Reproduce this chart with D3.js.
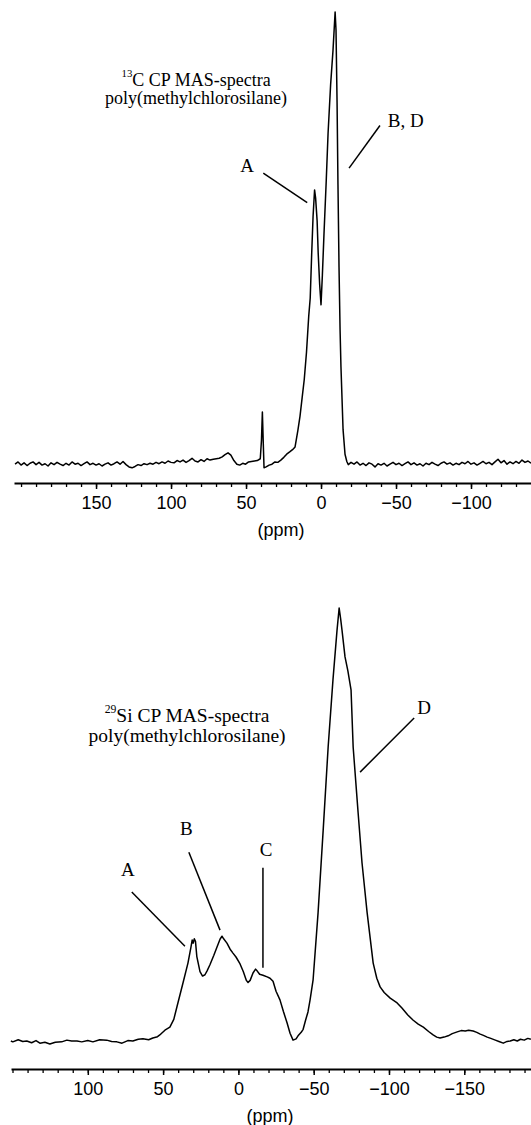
<!DOCTYPE html>
<html>
<head>
<meta charset="utf-8">
<script src="https://cdn.jsdelivr.net/npm/d3@7"></script>
<style>
  body { margin: 0; background: #fff; }
  svg { display: block; }
  .axis text { font-family: "Liberation Sans", Arial, sans-serif; font-size: 18px; fill: #000; }
  .axis path, .axis line { stroke: #000; }
  .note { font-family: "Liberation Serif", "Times New Roman", serif; fill: #000; }
  .spec { fill: none; stroke: #000; stroke-width: 1.5; stroke-linejoin: round; }
  .lead { stroke: #000; stroke-width: 1.5; }
</style>
</head>
<body>
<div id="chart"></div>
<script>
const width = 531, height = 1125;

// 13C CP MAS spectrum: shift (ppm) and intensity (% of tallest peak)
const cPpm = [204,202,200,198,196,194,192,190,188,186,184,182,180,178,176,174,172,170,168,166,164,162,160,158,156,154,152,150,148,146,144,142,140,138,136,134,132,130,128,126,124,122,120,118,116,114,112,110,108,106,104,102,100,98,96,94,92,90,88,86,84,82,80,78,76,74,
  71.8,69.8,67.9,65.9,64.0,62.0,60.1,58.1,56.1,54.2,52.2,50.3,48.3,46.4,44.4,42.5,40.5,39.7,39.1,38.5,38.0,36.6,34.6,32.7,30.7,28.8,26.8,24.8,22.9,20.9,19.0,17.3,15.4,14.0,12.6,11.2,9.7,8.2,7.2,6.3,5.3,4.3,3.6,2.6,1.9,0.9,0.0,-0.9,-2.0,-3.5,-4.7,-6.4,-8.0,-9.4,-10.0,-10.7,-11.3,-12.0,-12.7,-13.3,-14.7,-16.0,-17.2,-18.2,
  -20,-22,-24,-26,-28,-30,-32,-34,-36,-38,-40,-42,-44,-46,-48,-50,-52,-54,-56,-58,-60,-62,-64,-66,-68,-70,-72,-74,-76,-78,-80,-82,-84,-86,-88,-90,-92,-94,-96,-98,-100,-102,-104,-106,-108,-110,-112,-114,-116,-118,-120,-122,-124,-126,-128,-130,-132,-134,-136,-138,-140];
const cInt = [0.4,0.9,0.2,0.7,0.1,0.6,0.9,0.3,0.8,0.2,0.5,0.0,0.7,0.3,0.8,0.4,0.1,0.6,0.2,0.9,0.4,0.6,0.1,0.5,0.9,0.3,0.6,0.2,0.5,0.0,0.4,0.7,0.2,0.5,0.9,0.4,1.0,0.3,-0.2,-0.4,-0.1,0.3,0.1,0.5,0.3,0.6,0.4,0.8,0.5,0.9,0.6,1.1,0.8,0.7,1.2,0.9,1.3,0.8,1.2,1.7,1.1,0.9,1.4,1.0,1.6,1.3,
  1.5,1.6,1.7,2.0,2.5,2.9,2.4,1.2,0.4,0.2,0.6,0.4,0.9,1.0,1.1,1.2,1.6,5.7,11.9,5.0,-0.4,-0.2,0.2,0.4,0.9,0.8,1.3,1.9,2.6,3.1,3.6,4.2,7.9,11,15,19,25,33,37,46,55,60.8,59,54,47,40,35.5,42,51.3,63,73.3,84,91.6,100,96,80,62,43.8,30,21.8,8,2.6,1.0,0.3,
  0.8,0.4,0.9,0.2,0.6,0.1,0.7,0.4,-0.2,0.5,0.2,0.6,0.0,0.4,0.8,0.3,0.6,0.1,0.5,0.9,0.3,0.7,0.2,0.5,0.0,0.6,0.3,0.8,0.4,0.1,0.6,0.9,0.4,0.7,0.2,0.6,0.3,0.8,0.5,1.0,0.4,0.7,0.2,0.6,1.0,0.5,0.8,0.3,0.9,1.5,0.7,1.2,0.4,0.9,0.5,1.0,0.6,1.3,0.8,1.1,0.6];

// 29Si CP MAS spectrum
const siPpm = [151.1,149.8,146.2,143.2,140.5,137.3,134.4,131.8,128.5,125.2,121.6,117.3,113.9,110.8,107.2,104.0,100.0,96.6,92.1,87.4,84.2,80.7,77.3,73.4,70.1,66.5,63.4,59.6,56.8,53.7,52.2,48.8,45.5,42.9,40.8,36.8,33.5,31.5,30.7,30.0,29.3,28.5,27.6,25.5,23.8,22.2,20.8,18.9,16.3,14.2,12.2,10.9,9.8,7.6,5.5,3.6,1.6,-1.1,-3.3,-5.3,-6.4,-7.8,-9.7,-11.4,-12.4,-14.1,-16.3,-19.1,-21.0,-23.0,-25.0,-27.6,-29.9,-32.3,-34.3,-36.3,-38.3,-39.6,-41.7,-43.0,-44.6,-46.2,-47.6,-49.6,-52.9,-56.3,-59.6,-62.8,-65.5,-66.9,-67.9,-68.8,-70.8,-72.7,-74.8,-76.2,-79.5,-82.1,-85.5,-89.5,-91.9,-94.1,-96.8,-100.8,-105.4,-108.6,-112.5,-116.1,-119.4,-122.8,-126.3,-129.3,-131.7,-133.9,-136.6,-139.3,-142.0,-145.3,-147.9,-150.6,-152.9,-155.9,-158.3,-160.6,-162.7,-165.2,-167.6,-170.6,-173.0,-175.9,-178.4,-180.5,-182.9,-185.2,-187.3,-189.8,-192.2,-194.2];
const siInt = [0.0,-0.2,0.3,-0.1,0.0,-0.4,0.1,-0.5,-0.3,-0.7,-0.3,-0.2,0.2,0.0,0.0,-0.2,0.1,-0.2,0.3,0.2,-0.1,-0.2,-0.5,0.1,0.0,0.4,0.5,0.3,0.7,1.0,1.4,2.5,3.2,5.0,7.9,13.4,18.0,21.7,23.3,22.6,23.6,23.0,19.5,16.0,15.0,15.3,16.2,17.6,19.8,21.7,23.5,24.2,23.6,22.6,21.2,20.3,19.4,17.8,16.0,14.0,13.5,14.0,15.7,16.6,16.2,15.4,15.2,14.8,14.5,13.8,11.5,9.5,6.8,4.2,1.8,0.2,0.5,1.2,2.0,2.7,4.8,6.7,9.5,14.1,29.6,48.7,67.9,83.4,94.9,100,97.5,94.9,88.7,85.5,81.1,67.9,52.7,41.1,29.6,18.0,14.5,12.5,11.2,9.9,8.8,7.6,6.0,4.8,3.9,3.2,2.2,1.4,0.9,0.7,0.9,1.2,1.7,2.1,2.4,2.3,2.5,2.3,2.0,1.6,1.3,0.9,0.6,0.2,-0.1,-0.5,-0.1,0.0,0.3,0.0,0.4,0.2,0.6,0.4];

const cLabelTicks = [150, 100, 50, 0, -50, -100];
const siLabelTicks = [100, 50, 0, -50, -100, -150];

const cTitle = ["13", "C CP MAS-spectra", "poly(methylchlorosilane)"];
const siTitle = ["29", "Si CP MAS-spectra", "poly(methylchlorosilane)"];

// peak labels: [text, ppm, intensity], leader: [ppm1, int1, ppm2, int2]
const cLabels = [["A", 49.3, 66], ["B, D", -56.5, 76]];
const cLeaders = [[38.5, 64.5, 9.2, 58], [-39.3, 75, -18.7, 65.6]];
const siLabels = [["A", 73.4, 39.5], ["B", 34.5, 49], ["C", -18.4, 44.1], ["D", -123.3, 77]];
const siLeaders = [[70.8, 34.4, 35.5, 21.9], [32.9, 43.6, 12.2, 25.6], [-16.3, 40, -16.3, 16.9], [-116.7, 74.6, -80.8, 62.1]];

const svg = d3.select("#chart").append("svg")
  .attr("width", width)
  .attr("height", height);

function panel(cfg) {
  const x = d3.scaleLinear().domain(cfg.domain).range([cfg.left, width]);
  const y = d3.scaleLinear().domain([0, 100]).range([cfg.base, cfg.top]);
  const g = svg.append("g");

  const line = d3.line().x((d, i) => x(cfg.ppm[i])).y(d => y(d));
  g.append("path").datum(cfg.int).attr("class", "spec").attr("d", line);

  // minor ticks every 10 ppm
  const minor = d3.range(Math.floor(cfg.domain[0] / 10) * 10, cfg.domain[1], -10);
  g.append("g")
    .attr("class", "axis")
    .attr("transform", `translate(0,${cfg.axisY})`)
    .call(d3.axisBottom(x).tickValues(minor).tickSize(4).tickSizeOuter(0).tickFormat(""))
    .call(a => a.select(".domain").attr("stroke-width", 2.2))
    .selectAll(".tick line").attr("stroke-width", 1.3);

  g.append("g")
    .attr("class", "axis")
    .attr("transform", `translate(0,${cfg.axisY})`)
    .call(d3.axisBottom(x).tickValues(cfg.ticks).tickSize(6).tickSizeOuter(0))
    .call(a => a.select(".domain").remove())
    .call(a => a.selectAll(".tick line").attr("stroke-width", 1.5))
    .call(a => a.selectAll(".tick text").attr("y", 13));

  g.append("text")
    .attr("class", "axis-label")
    .attr("x", x(cfg.ppmLabelAt))
    .attr("y", cfg.axisY + 53)
    .attr("text-anchor", "middle")
    .style("font-family", "Liberation Sans, Arial, sans-serif")
    .style("font-size", "18px")
    .text("(ppm)");

  const t = g.append("text")
    .attr("class", "note")
    .attr("text-anchor", "middle")
    .attr("x", x(cfg.titleAt[0]))
    .attr("y", y(cfg.titleAt[1]))
    .style("font-size", cfg.titleSize + "px");
  t.append("tspan").attr("font-size", "0.6em").attr("dy", "-0.5em").text(cfg.title[0]);
  t.append("tspan").attr("dy", "0.5em").text(cfg.title[1]);
  g.append("text")
    .attr("class", "note")
    .attr("text-anchor", "middle")
    .attr("x", x(cfg.titleAt[0]))
    .attr("y", y(cfg.titleAt[1]) + cfg.titleSize * 1.2)
    .style("font-size", cfg.titleSize + "px")
    .text(cfg.title[2]);

  g.selectAll(".peak")
    .data(cfg.labels)
    .join("text")
    .attr("class", "note peak")
    .attr("text-anchor", "middle")
    .attr("x", d => x(d[1]))
    .attr("y", d => y(d[2]) + 6)
    .style("font-size", "19px")
    .text(d => d[0]);

  g.selectAll(".lead")
    .data(cfg.leaders)
    .join("line")
    .attr("class", "lead")
    .attr("x1", d => x(d[0]))
    .attr("y1", d => y(d[1]))
    .attr("x2", d => x(d[2]))
    .attr("y2", d => y(d[3]));
}

panel({
  ppm: cPpm, int: cInt, domain: [204.7, -140], left: 14,
  base: 466, top: 12, axisY: 483, ticks: cLabelTicks, ppmLabelAt: 26.7,
  title: cTitle, titleAt: [83.3, 84.4], titleSize: 18,
  labels: cLabels, leaders: cLeaders
});

panel({
  ppm: siPpm, int: siInt, domain: [151, -194.3], left: 11,
  base: 1041, top: 608, axisY: 1069, ticks: siLabelTicks, ppmLabelAt: -21,
  title: siTitle, titleAt: [34.1, 74.5], titleSize: 19.5,
  labels: siLabels, leaders: siLeaders
});
</script>
</body>
</html>
